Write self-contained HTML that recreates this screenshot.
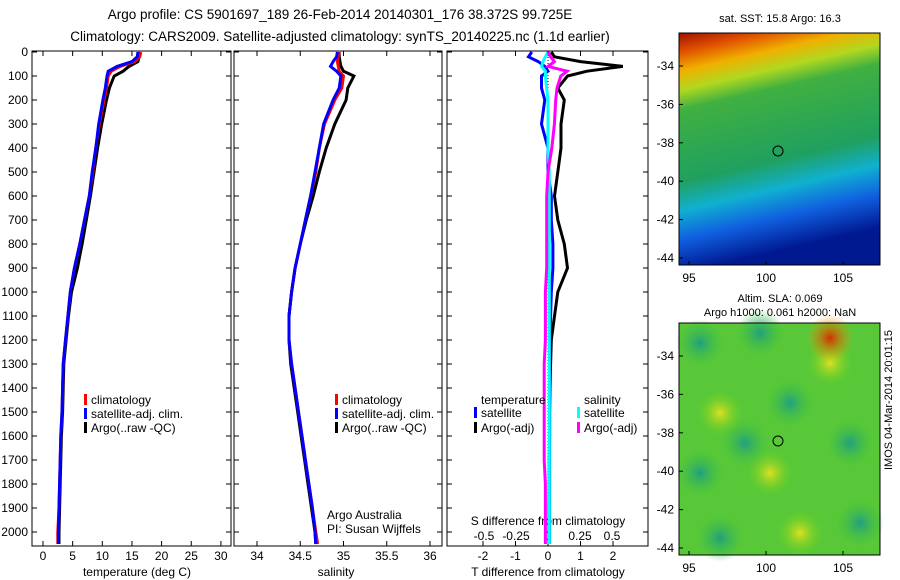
<!DOCTYPE html>
<html><head><meta charset="utf-8"><style>
body{margin:0;background:#fff;}
svg{display:block;font-family:"Liberation Sans",sans-serif;font-size:12px;}
</style></head><body>
<svg id="chart" width="900" height="580">
<defs>
<linearGradient id="sst" x1="0" y1="0" x2="0.2" y2="1">
<stop offset="0" stop-color="#a01000"/><stop offset="0.08" stop-color="#e05000"/><stop offset="0.16" stop-color="#f0b000"/><stop offset="0.24" stop-color="#b0d820"/><stop offset="0.32" stop-color="#40b040"/><stop offset="0.62" stop-color="#20a060"/><stop offset="0.74" stop-color="#10b0d0"/><stop offset="0.86" stop-color="#1060e0"/><stop offset="1" stop-color="#001890"/>
</linearGradient>
<radialGradient id="blobB"><stop offset="0" stop-color="#20a080"/><stop offset="1" stop-color="#40c040" stop-opacity="0"/></radialGradient>
<radialGradient id="blobY"><stop offset="0" stop-color="#e0e020"/><stop offset="1" stop-color="#60d020" stop-opacity="0"/></radialGradient>
<radialGradient id="blobR"><stop offset="0" stop-color="#d03000"/><stop offset="1" stop-color="#f0a000" stop-opacity="0"/></radialGradient>
</defs>
<g id="g"></g>
</svg>
<script>
// ---- data ----
const depthT=[0,20,40,60,80,100,150,200,300,400,500,600,700,800,900,1000,1100,1200,1300,1400,1500,1600,1700,1800,1900,2000,2050];
const tempClim=[16.5,16.3,15.5,13,11.5,11,10.7,10.3,9.5,8.9,8.4,7.8,7,6.2,5.3,4.6,4.2,3.8,3.4,3.3,3.2,3.0,2.9,2.8,2.7,2.5,2.5];
const tempSat=[16.0,15.9,15.0,12.5,11.0,10.8,10.5,10.1,9.4,8.9,8.3,7.8,7.0,6.2,5.3,4.6,4.2,3.8,3.4,3.3,3.2,3.0,2.9,2.8,2.7,2.6,2.6];
const tempArgo=[16.3,16.2,16.0,14.5,13.5,12.0,11.2,10.7,9.9,9.2,8.6,8.0,7.3,6.6,5.8,4.8,4.3,3.9,3.5,3.4,3.3,3.1,3.0,2.9,2.8,2.7,2.7];
const salClim=[34.95,34.94,34.93,34.94,34.95,35.0,34.98,34.9,34.78,34.72,34.68,34.62,34.56,34.5,34.44,34.4,34.37,34.37,34.4,34.44,34.48,34.52,34.56,34.6,34.64,34.68,34.7];
const salSat=[34.93,34.92,34.88,34.85,34.92,34.97,34.95,34.88,34.77,34.72,34.67,34.62,34.56,34.5,34.44,34.4,34.37,34.37,34.4,34.44,34.48,34.52,34.56,34.6,34.64,34.67,34.68];
const salArgo=[34.95,34.95,34.96,34.97,35.0,35.12,35.05,35.03,34.9,34.8,34.72,34.65,34.57,34.5,34.44,34.4,34.37,34.37,34.39,34.43,34.47,34.51,34.55,34.59,34.63,34.67,34.68];
const dTsat=[-0.5,-0.6,-0.3,-0.1,0,-0.2,-0.2,-0.1,-0.2,0,0,0.1,0.1,0.15,0.15,0.1,0.08,0.06,0.05,0.05,0.05,0.05,0.05,0.05,0.05,0.05,0.05];
const dTargo=[0.1,0.2,1.0,2.3,1.2,0.6,0.3,0.5,0.4,0.4,0.3,0.2,0.3,0.5,0.6,0.3,0.2,0.1,0.08,0.06,0.05,0.05,0.04,0.04,0.03,0.03,0.03];
const dSsat=[0,-0.02,-0.04,-0.05,-0.02,-0.02,-0.01,0,0,0,0.01,0.01,0.01,0.01,0.01,0.01,0.01,0.01,0.01,0.01,0.01,0.01,0.01,0.01,0.01,0.01,0.01];
const dSargo=[0,0.02,0.05,0.0,0.15,0.1,0.07,0.06,0.05,0.03,0.0,-0.01,-0.01,-0.01,-0.01,-0.02,-0.02,-0.02,-0.03,-0.03,-0.03,-0.03,-0.03,-0.02,-0.02,-0.02,-0.02];
const depthTicks=[0,100,200,300,400,500,600,700,800,900,1000,1100,1200,1300,1400,1500,1600,1700,1800,1900,2000];
const tempTicks=[0,5,10,15,20,25,30];
const salTicks=[34,34.5,35,35.5,36];
const dTTicks=[-2,-1,0,1,2];
const dSTicks=[-0.5,-0.25,0,0.25,0.5];
const latTicks=[-34,-36,-38,-40,-42,-44];
const lonTicks=[95,100,105];

const NS="http://www.w3.org/2000/svg";
const G=document.getElementById('g');
function el(t,a,txt){const e=document.createElementNS(NS,t);for(const k in a)e.setAttribute(k,a[k]);if(txt!==undefined)e.textContent=txt;G.appendChild(e);return e;}
const Y=d=>52+d*0.24;
const P1={l:32,r:231},P2={l:234,r:442},P3={l:447,r:648},TOP=51,BOT=546;
const xT=v=>43+v*5.93, xS=v=>257+(v-34)*86.5, xdT=v=>548+v*32.5, xdS=v=>548+v*128;

function frame(p,name){
  const r=el('rect',{x:p.l,y:TOP,width:p.r-p.l,height:BOT-TOP,fill:'none',stroke:'#000','stroke-width':1});
  
  depthTicks.forEach(d=>{el('line',{x1:p.l,x2:p.l+5,y1:Y(d),y2:Y(d),stroke:'#000'});el('line',{x1:p.r-5,x2:p.r,y1:Y(d),y2:Y(d),stroke:'#000'});});
}
function line(xs,f,col,name,w){
  const pts=depthT.map((d,i)=>f(xs[i]).toFixed(1)+','+Y(d).toFixed(1)).join(' ');
  const e=el('polyline',{points:pts,fill:'none',stroke:col,'stroke-width':w||3,'stroke-linejoin':'miter'});
  
}
let t=el('text',{x:340,y:19,'text-anchor':'middle','font-size':'13.5'},'Argo profile: CS 5901697_189 26-Feb-2014 20140301_176 38.372S 99.725E');

t=el('text',{x:340,y:41,'text-anchor':'middle','font-size':'13.5'},'Climatology: CARS2009. Satellite-adjusted climatology: synTS_20140225.nc (1.1d earlier)');


frame(P1,'temperature-panel');frame(P2,'salinity-panel');frame(P3,'difference-panel');
depthTicks.forEach(d=>{const e=el('text',{x:28,y:Y(d)+4,'text-anchor':'end'},String(d));});
tempTicks.forEach(v=>{el('line',{x1:xT(v),x2:xT(v),y1:BOT,y2:BOT-5,stroke:'#000'});el('line',{x1:xT(v),x2:xT(v),y1:TOP,y2:TOP+5,stroke:'#000'});const e=el('text',{x:xT(v),y:560,'text-anchor':'middle'},String(v));});
salTicks.forEach(v=>{el('line',{x1:xS(v),x2:xS(v),y1:BOT,y2:BOT-5,stroke:'#000'});el('line',{x1:xS(v),x2:xS(v),y1:TOP,y2:TOP+5,stroke:'#000'});const e=el('text',{x:xS(v),y:560,'text-anchor':'middle'},String(v));});
dTTicks.forEach(v=>{el('line',{x1:xdT(v),x2:xdT(v),y1:BOT,y2:BOT-5,stroke:'#000'});el('line',{x1:xdT(v),x2:xdT(v),y1:TOP,y2:TOP+5,stroke:'#000'});const e=el('text',{x:xdT(v),y:560,'text-anchor':'middle'},String(v));});
dSTicks.forEach(v=>{const e=el('text',{x:xdS(v),y:540,'text-anchor':'middle'},String(v));});
[[137,'temperature (deg C)'],[336,'salinity'],[548,'T difference from climatology']].forEach(a=>{const e=el('text',{x:a[0],y:576,'text-anchor':'middle'},a[1]);});
t=el('text',{x:548,y:525,'text-anchor':'middle'},'S difference from climatology');
el('line',{x1:548,x2:548,y1:TOP,y2:BOT,stroke:'#000','stroke-dasharray':'1,2'});

line(tempArgo,xT,'#000','temp-argo');line(tempClim,xT,'#f00','temp-climatology');line(tempSat,xT,'#00f','temp-satellite');
line(salArgo,xS,'#000','sal-argo');line(salClim,xS,'#f00','sal-climatology');line(salSat,xS,'#00f','sal-satellite');
line(dTargo,xdT,'#000','dT-argo');line(dTsat,xdT,'#00f','dT-satellite');line(dSsat,xdS,'#0ff','dS-satellite');line(dSargo,xdS,'#f0f','dS-argo');

function leg(x,y,col,txt){el('rect',{x:x,y:y-10,width:3,height:11,fill:col});const e=el('text',{x:x+7,y:y},txt);}
[[84,'#f00','climatology',404],[84,'#00f','satellite-adj. clim.',418],[84,'#000','Argo(..raw -QC)',432]].forEach(a=>leg(a[0],a[3],a[1],a[2]));
[[335,'#f00','climatology',404],[335,'#00f','satellite-adj. clim.',418],[335,'#000','Argo(..raw -QC)',432]].forEach(a=>leg(a[0],a[3],a[1],a[2]));
t=el('text',{x:481,y:404},'temperature');
t=el('text',{x:584,y:404},'salinity');
leg(474,417,'#00f','satellite');leg(474,432,'#000','Argo(-adj)');leg(577,417,'#0ff','satellite');leg(577,432,'#f0f','Argo(-adj)');
t=el('text',{x:327,y:519},'Argo Australia');
t=el('text',{x:327,y:533},'PI: Susan Wijffels');

function map(y0,name,isSST){
  const r=el('rect',{x:679,y:y0,width:201,height:232,fill:isSST?'url(#sst)':'#58c838'});
  
  if(!isSST){
    [[700,20,'blobB'],[760,10,'blobB'],[830,40,'blobY'],[720,90,'blobY'],[790,80,'blobB'],[850,120,'blobB'],[700,150,'blobB'],[770,150,'blobY'],[720,215,'blobB'],[800,210,'blobY'],[860,200,'blobB'],[830,15,'blobR'],[745,120,'blobB']].forEach(b=>el('circle',{cx:b[0],cy:y0+b[1],r:24,fill:'url(#'+b[2]+')'}));
  }
  el('rect',{x:679,y:y0,width:201,height:232,fill:'none',stroke:'#000'});
  latTicks.forEach((v,i)=>{const yy=y0+33+i*38.4;el('line',{x1:679,x2:683,y1:yy,y2:yy,stroke:'#000'});const e=el('text',{x:674,y:yy+4,'text-anchor':'end'},String(v));});
  lonTicks.forEach(v=>{const xx=689+(v-95)*15.4;el('line',{x1:xx,x2:xx,y1:y0+232,y2:y0+228,stroke:'#000'});const e=el('text',{x:xx,y:y0+249,'text-anchor':'middle'},String(v));});
  const c=el('circle',{cx:778,cy:y0+118,r:5,fill:'none',stroke:'#000'});
}
map(33,'sst-map',true);map(323,'sla-map',false);
t=el('text',{x:780,y:22,'text-anchor':'middle','font-size':'11'},'sat. SST: 15.8 Argo: 16.3');
t=el('text',{x:780,y:302,'text-anchor':'middle','font-size':'11'},'Altim. SLA: 0.069');
t=el('text',{x:780,y:316,'text-anchor':'middle','font-size':'11'},'Argo h1000: 0.061 h2000: NaN');
t=el('text',{x:892,y:470,'font-size':'11',transform:'rotate(-90 892 470)','text-anchor':'start'},'IMOS 04-Mar-2014 20:01:15');
</script>
</body></html>
